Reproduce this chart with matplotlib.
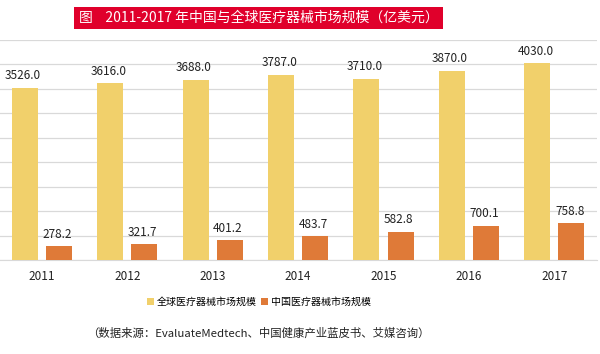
import matplotlib
matplotlib.use("Agg")
import matplotlib.pyplot as plt
import numpy as np

plt.rcParams['font.family'] = ['Noto Sans CJK SC', 'DejaVu Sans']

# data
years = ["2011", "2012", "2013", "2014", "2015", "2016", "2017"]
global_market = [3526.0, 3616.0, 3688.0, 3787.0, 3710.0, 3870.0, 4030.0]
china_market = [278.2, 321.7, 401.2, 483.7, 582.8, 700.1, 758.8]
series_names = ["全球医疗器械市场规模", "中国医疗器械市场规模"]
title = "图    2011-2017 年中国与全球医疗器械市场规模（亿美元）"
source = "（数据来源：EvaluateMedtech、中国健康产业蓝皮书、艾媒咨询）"

c_global = "#F1D06B"
c_china = "#DF7A38"

fig = plt.figure(figsize=(6, 3.54), dpi=100)
ax = fig.add_axes([0.0, 1 - 260 / 354, 0.995, 220 / 354])

x = np.arange(len(years))
w = 0.305
off = 0.2
b1 = ax.bar(x - off, global_market, w, color=c_global, zorder=3, label=series_names[0])
b2 = ax.bar(x + off, china_market, w, color=c_china, zorder=3, label=series_names[1])

for bars, vals in ((b1, global_market), (b2, china_market)):
    for r, v in zip(bars, vals):
        ax.text(r.get_x() + r.get_width() / 2 - 0.02, v + 110, f"{v:.1f}",
                ha="center", va="bottom", fontsize=8.5, color="#222222")

ax.set_xlim(-0.49, 6.5)
ax.set_ylim(0, 4500)
ax.set_yticks(np.arange(0, 4501, 500))
ax.set_yticklabels([])
ax.tick_params(axis="y", length=0)
ax.yaxis.grid(True, color="#D9D9D9", linewidth=0.9, zorder=0)
ax.set_xticks(x)
ax.set_xticklabels(years, fontsize=8.5, color="#222222")
ax.tick_params(axis="x", length=0, pad=7)
for s in ("top", "right", "left"):
    ax.spines[s].set_visible(False)
ax.spines["bottom"].set_color("#D9D9D9")

fig.text(0.5 * (76 + 441) / 600, 1 - 18 / 354, title, ha="center", va="center",
         fontsize=10, color="white",
         bbox=dict(boxstyle="square,pad=0.32", facecolor="#E0002B", edgecolor="none"))

fig.legend(handles=[b1, b2], loc="center", bbox_to_anchor=(0.432, 1 - 302 / 354),
           ncol=2, frameon=False, fontsize=7.2, handlelength=0.7, handleheight=0.7,
           handletextpad=0.3, columnspacing=0.4)

fig.text(0.43, 1 - 333 / 354, source, ha="center", va="center", fontsize=8.2, color="#222222")

fig.savefig("out.png", dpi=100)
